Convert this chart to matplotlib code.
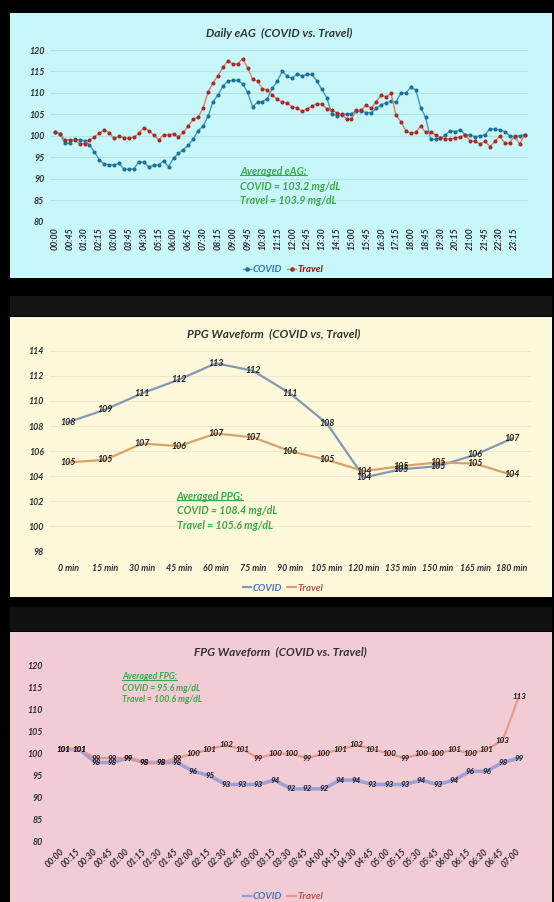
import matplotlib
matplotlib.use('Agg')
import matplotlib.pyplot as plt
from matplotlib.patches import Rectangle
from matplotlib.lines import Line2D

plt.rcParams['font.family'] = ['Lato', 'DejaVu Sans']

# ---- Daily eAG (15-min samples over 24h) ----
eag_times = [f"{h:02d}:{m:02d}" for h in range(24) for m in (0, 15, 30, 45)]
eag_covid = [
    100.8, 100.5, 98.3, 98.3, 99.2, 99.0, 98.9, 97.9, 96.3, 94.4,
    93.4, 93.2, 93.2, 93.6, 92.2, 92.2, 92.3, 94.0, 93.8, 92.8,
    93.1, 93.2, 94.2, 92.8, 94.8, 95.9, 96.8, 97.8, 99.3, 101.2,
    102.3, 104.6, 108.0, 109.5, 111.5, 112.8, 112.9, 112.9, 112.1, 110.1,
    106.8, 107.8, 108.0, 108.7, 111.1, 112.8, 115.0, 113.9, 113.4, 114.4,
    114.0, 114.3, 114.3, 112.8, 110.8, 108.9, 105.2, 104.7, 104.9, 105.1,
    105.2, 105.8, 105.8, 105.4, 105.4, 106.4, 107.2, 107.7, 108.1, 107.9,
    110.0, 110.0, 111.3, 110.7, 106.6, 104.3, 99.2, 99.2, 99.4, 100.2,
    101.2, 101.0, 101.4, 100.2, 100.2, 99.8, 100.0, 100.2, 101.7, 101.5,
    101.4, 101.0, 100.0, 99.8, 100.0, 100.3]
eag_travel = [
    101.0, 100.5, 99.1, 99.1, 99.1, 98.2, 98.2, 99.0, 99.8, 100.6,
    101.4, 100.7, 99.4, 99.9, 99.6, 99.4, 99.7, 100.6, 101.9, 101.2,
    100.2, 99.1, 100.2, 100.3, 100.4, 99.8, 100.8, 102.3, 103.9, 104.4,
    106.5, 110.2, 112.4, 114.0, 116.0, 117.5, 116.7, 116.8, 118.0, 115.8,
    113.2, 112.7, 111.0, 110.7, 109.5, 108.5, 107.9, 107.7, 106.7, 106.5,
    105.7, 106.3, 106.9, 107.5, 107.4, 106.3, 106.0, 105.4, 105.0, 103.9,
    103.9, 106.0, 106.0, 107.2, 106.4, 108.0, 109.5, 109.1, 109.9, 104.8,
    103.3, 101.2, 100.6, 100.8, 102.3, 100.8, 101.0, 100.2, 99.6, 99.3,
    99.3, 99.5, 99.8, 100.2, 98.9, 98.7, 98.1, 98.7, 97.5, 98.7,
    100.0, 98.3, 98.4, 100.0, 98.1, 100.2]

# ---- PPG waveform ----
ppg_labels = ['0 min', '15 min', '30 min', '45 min', '60 min', '75 min', '90 min',
              '105 min', '120 min', '135 min', '150 min', '165 min', '180 min']
ppg_covid = [108.3, 109.3, 110.6, 111.7, 113.0, 112.4, 110.6, 108.2, 103.9, 104.55, 104.8, 105.7, 107.0]
ppg_travel = [105.1, 105.3, 106.6, 106.4, 107.4, 107.1, 106.0, 105.3, 104.4, 104.8, 105.1, 105.0, 104.1]

# ---- FPG waveform ----
fpg_times = [f"{h:02d}:{m:02d}" for h in range(7) for m in (0, 15, 30, 45)] + ['07:00']
fpg_covid = [101, 101, 98, 98, 99, 98, 98, 98, 96, 95, 93, 93, 93, 94, 92, 92, 92,
             94, 94, 93, 93, 93, 94, 93, 94, 96, 96, 98, 99]
fpg_travel = [101, 101, 99, 99, 99, 98, 98, 99, 100, 101, 102, 101, 99, 100, 100, 99, 100,
              101, 102, 101, 100, 99, 100, 100, 101, 100, 101, 103, 113]

W, H = 554, 902
fig = plt.figure(figsize=(W / 100, H / 100), dpi=100, facecolor='black')


def fx(px):
    return px / W


def fy(py):
    return 1 - py / H


def panel(x0, y0, x1, y1, color):
    fig.patches.append(Rectangle((fx(x0), fy(y1)), fx(x1 - x0), (y1 - y0) / H,
                                 transform=fig.transFigure, facecolor=color,
                                 edgecolor='none', zorder=-5))


def make_ax(x0, x1, ytop, ybot):
    ax = fig.add_axes([fx(x0), fy(ybot), fx(x1 - x0), (ybot - ytop) / H])
    ax.patch.set_visible(False)
    for s in ax.spines.values():
        s.set_visible(False)
    ax.tick_params(length=0, colors='#333333', labelsize=6.4)
    return ax


def style_ticks(ax):
    for lab in ax.get_xticklabels() + ax.get_yticklabels():
        lab.set_fontweight('bold')
        lab.set_fontstyle('italic')
        lab.set_color('#2e2e2e')


GREEN = '#3aa84a'
green_texts = []


def green_block(x, ys, lines, size):
    for i, (y, s) in enumerate(zip(ys, lines)):
        t = fig.text(fx(x), fy(y), s, color=GREEN, fontsize=size, fontweight='bold',
                     fontstyle='italic', va='center', ha='left')
        if i == 0:
            green_texts.append(t)


def legend(handles, y, colors):
    leg = fig.legend(handles=handles, labels=['COVID', 'Travel'], loc='center',
                     bbox_to_anchor=(fx(283), fy(y)),
                     ncol=2, frameon=False, handlelength=0.9, handletextpad=0.15,
                     columnspacing=0.5, prop={'size': 7, 'weight': 'bold', 'style': 'italic'})
    for t, c in zip(leg.get_texts(), colors):
        t.set_color(c)


def title(x, y, s):
    fig.text(fx(x), fy(y), s, ha='center', va='center', fontsize=8.5,
             fontweight='bold', fontstyle='italic', color='#333333')


# panel backgrounds and dark screenshot strips
panel(10, 13, 552, 278, '#c8f7f9')
panel(10, 296, 552, 316, '#141414')
panel(10, 317, 552, 597, '#fdf8da')
panel(10, 607, 552, 631, '#111111')
panel(10, 632, 552, 902, '#f2ccd5')

# ---------------- Daily eAG ----------------
ax1 = make_ax(49.9, 528, 50, 221.7)
x_eag = list(range(len(eag_times)))
ax1.plot(x_eag, eag_covid, color='#3d9cc6', lw=1.0, marker='o', ms=1.9,
         mfc='#1f6e98', mec='#1f6e98', zorder=3)
ax1.plot(x_eag, eag_travel, color='#e47c66', lw=1.0, marker='o', ms=1.9,
         mfc='#a52a2a', mec='#a52a2a', zorder=3)
ax1.set_xlim(-1.0, 95.7)
ax1.set_ylim(80, 120)
ax1.set_yticks(range(80, 121, 5))
ax1.set_xticks(x_eag[::3])
ax1.set_xticklabels(eag_times[::3], rotation=90)
ax1.tick_params(axis='x', pad=4)
ax1.tick_params(axis='y', pad=4)
ax1.grid(axis='y', color='#b2e2e6', lw=0.8)
ax1.set_axisbelow(True)
style_ticks(ax1)
title(279, 33, 'Daily eAG  (COVID vs. Travel)')
green_block(240, [171.7, 186, 200.3],
            ['Averaged eAG:', 'COVID = 103.2 mg/dL', 'Travel = 103.9 mg/dL'], 7.6)
legend([Line2D([], [], color='#3d9cc6', marker='o', ms=2.3, mfc='#1f6e98', mec='#1f6e98', lw=1),
        Line2D([], [], color='#e47c66', marker='o', ms=2.3, mfc='#a52a2a', mec='#a52a2a', lw=1)],
       270, ['#2e75b6', '#c00000'])

# ---------------- PPG waveform ----------------
ax2 = make_ax(49.5, 530.5, 350.7, 551.5)
x_ppg = list(range(len(ppg_labels)))
ax2.plot(x_ppg, ppg_covid, color='#8398b8', lw=1.6, zorder=3)
ax2.plot(x_ppg, ppg_travel, color='#d9a26c', lw=1.6, zorder=3)
for series in (ppg_covid, ppg_travel):
    for xi, v in zip(x_ppg, series):
        ax2.text(xi, v, f'{v:.0f}', ha='center', va='center', fontsize=6.4,
                 fontweight='bold', fontstyle='italic', color='#222222', zorder=4)
ax2.set_xlim(-0.5, 12.5)
ax2.set_ylim(98, 114)
ax2.set_yticks(range(98, 115, 2))
ax2.set_xticks(x_ppg)
ax2.set_xticklabels(ppg_labels)
ax2.tick_params(axis='x', pad=9)
ax2.tick_params(axis='y', pad=4)
ax2.grid(axis='y', color='#eee8c6', lw=0.8)
ax2.set_axisbelow(True)
style_ticks(ax2)
title(274, 333.3, 'PPG Waveform  (COVID vs, Travel)')
green_block(176.7, [496.7, 511, 525.3],
            ['Averaged PPG:', 'COVID = 108.4 mg/dL', 'Travel = 105.6 mg/dL'], 7.6)
legend([Line2D([], [], color='#8398b8', lw=1.6), Line2D([], [], color='#d9a26c', lw=1.6)],
       588.3, ['#4472c4', '#c0504d'])

# ---------------- FPG waveform ----------------
ax3 = make_ax(54.9, 527.1, 665.7, 841.7)
x_fpg = list(range(len(fpg_times)))
ax3.plot(x_fpg, fpg_covid, color='#8f9ad8', lw=2.6, alpha=0.85, zorder=3)
ax3.plot(x_fpg, fpg_travel, color='#e6998a', lw=1.6, zorder=3)
for series in (fpg_covid, fpg_travel):
    for xi, v in zip(x_fpg, series):
        ax3.text(xi, v, str(v), ha='center', va='center', fontsize=5.8,
                 fontweight='bold', fontstyle='italic', color='#1e1e1e', zorder=4)
ax3.set_xlim(-0.5, 28.5)
ax3.set_ylim(80, 120)
ax3.set_yticks(range(80, 121, 5))
ax3.set_xticks(x_fpg)
ax3.set_xticklabels(fpg_times, rotation=45, ha='right', va='center', rotation_mode='anchor')
ax3.tick_params(axis='x', pad=6)
ax3.tick_params(axis='y', pad=9)
style_ticks(ax3)
title(280, 651.7, 'FPG Waveform  (COVID vs. Travel)')
green_block(122, [676.7, 688.3, 700],
            ['Averaged FPG:', 'COVID = 95.6 mg/dL', 'Travel = 100.6 mg/dL'], 6.3)
legend([Line2D([], [], color='#8f9ad8', lw=1.6), Line2D([], [], color='#e6998a', lw=1.6)],
       896.7, ['#4472c4', '#c0504d'])

# underline the "Averaged ..." headings
fig.canvas.draw()
inv = fig.transFigure.inverted()
for t in green_texts:
    bb = t.get_window_extent()
    (x0, y0), (x1, y1) = inv.transform([(bb.x0, bb.y0), (bb.x1, bb.y1)])
    yl = y0 + (y1 - y0) * 0.16
    fig.add_artist(Line2D([x0, x1], [yl, yl], color=GREEN, lw=0.8, transform=fig.transFigure))

fig.savefig('out.png', dpi=100, facecolor='black')
